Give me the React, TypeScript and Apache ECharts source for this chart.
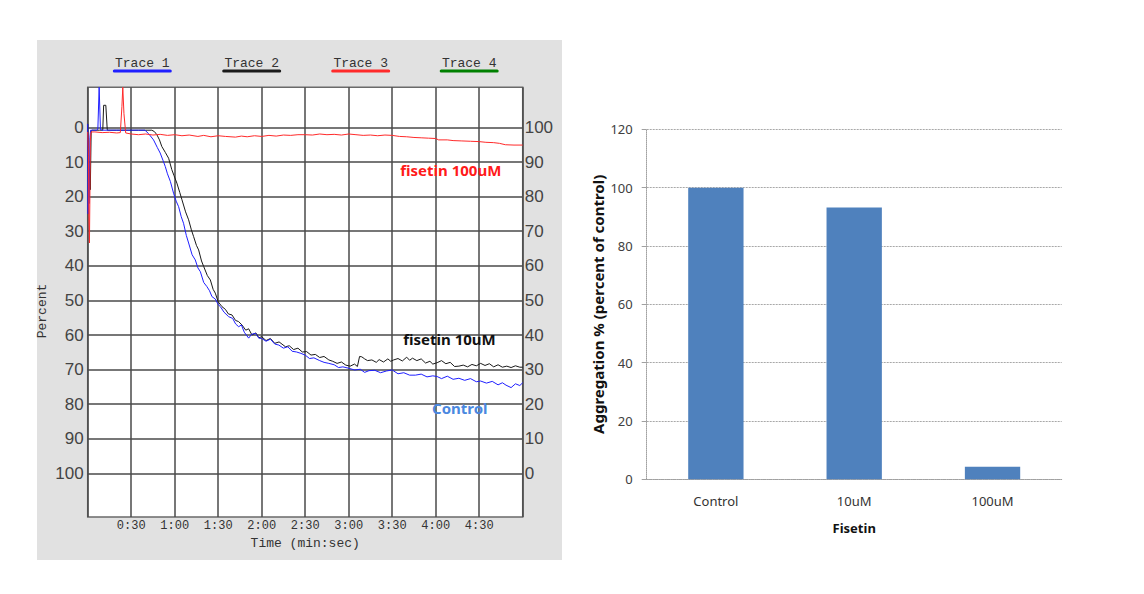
import React, { useEffect, useRef } from "react";
import * as echarts from "echarts";

// time (s), percent (0 at top, increasing downward)
const controlTrace: [number, number][] = [
  [0, -1], [0.3, 25], [0.6, 10], [1, 22], [1.5, 3], [2, 0.8], [4, 0.8], [6, 0.8], [7, 0.5], [7.9, -11.6], [8.8, 0.6],
  [10, 0.8], [15, 0.8], [20, 0.8], [25, 0.8], [30, 0.8], [35, 0.8], [39.5, 0.8], [42, 1.8], [45.4, 3.6], [48, 5.8],
  [50, 7.4], [52, 9.6], [53.5, 11.3], [55, 13.4], [57, 15.6], [59.2, 19], [61, 21.3], [62.7, 22.9], [64.5, 25.8],
  [66.1, 27.7], [68, 31.2], [69.6, 33.4], [72, 36.8], [74.2, 38.3], [76, 40.6], [77.7, 41.7], [80, 44.8], [82.2, 46],
  [84, 47.2], [85.7, 48.9], [88, 49.6], [90, 51.2], [91.5, 51.8], [94, 53.4], [97.2, 54.7], [100, 55.2], [102, 56.8],
  [104.1, 57.6], [106, 57.1], [108, 59.2], [111, 60.9], [113, 59.8], [115.7, 59.5], [118, 60.9], [120, 61], [123, 61.8],
  [126, 61.2], [129, 62.6], [131.8, 62.9], [135, 63.8], [138, 63.4], [141, 64.7], [144, 64.9], [147, 65.3], [150, 65.8],
  [153, 66.8], [156, 66.6], [160, 67.4], [163, 67.9], [166.3, 68.2], [170, 68.6], [173, 69.4], [176, 69.2], [180, 69.6],
  [184, 70.1], [188, 69.9], [191, 70.8], [194, 70.3], [198, 70.2], [202, 70.9], [206, 70.4], [210, 70.1], [214, 71.2],
  [218, 70.9], [222, 71.6], [226, 71.6], [230, 71.3], [234, 72.1], [238, 71.8], [241, 72], [244, 72.6], [248, 71.9],
  [252, 72.8], [256, 72.5], [260, 73.1], [264, 72.6], [268, 73.5], [271, 73.3], [275, 73.9], [279, 73.4], [283, 74.4],
  [286, 73.8], [288.5, 74.5], [292, 75.2], [295, 74.1], [298, 74.6], [300, 73.8],
];

const fisetin10Trace: [number, number][] = [
  [0, -1], [0.4, 8], [0.7, 20], [1.2, 12], [1.8, 18], [2.4, 1], [3, 0.8], [5, 0.8], [8, 0.8], [10.4, 0.8], [11, -6.4],
  [12.5, -6.4], [13.5, 0.8], [16, 0.8], [20, 0.8], [25, 0.8], [30, 0.8], [35, 0.8], [40, 0.8], [44.2, 0.8], [46, 1.2],
  [47.7, 2.1], [49.5, 3.6], [51.1, 5.5], [53.5, 7.2], [55.8, 8.9], [58, 12.2], [59.5, 13.9], [61.5, 16.1], [63.5, 18.8],
  [65, 20.9], [67.5, 24.4], [69.6, 26.7], [71.5, 29.6], [73, 31.5], [75, 34.1], [76.5, 35.4], [78.5, 38.6], [80, 40.2],
  [82.5, 42.8], [84.6, 44.1], [86.5, 46.8], [88, 47.9], [90, 50.4], [92.6, 51.8], [95, 52.6], [97, 53.9], [99.5, 54.2],
  [102, 55.8], [104, 56.1], [106.4, 57.1], [109, 58.6], [111, 58.2], [113.3, 60], [116, 59.4], [118, 60.8], [120, 60.5],
  [123, 61.6], [126, 61], [129, 62.4], [132, 62], [136.4, 63.4], [139, 63.1], [142, 64.2], [145, 63.8], [148, 64.9],
  [151, 64.8], [154, 65.8], [157, 65.6], [160, 66.5], [163, 66.2], [166.3, 67.2], [169, 67.6], [172, 68.2], [175, 67.8],
  [178, 68.7], [181, 69], [184, 68.4], [186, 69.1], [187.5, 66.2], [189, 66.3], [191, 66.9], [193, 67.4], [196, 67.2],
  [199, 67.9], [201, 67.1], [204, 67.8], [207, 66.9], [209, 67.6], [211, 67.2], [214, 66.8], [217, 67.5], [220, 66.4],
  [222, 67.3], [224, 66.7], [227, 67.4], [230, 66.9], [233, 68.1], [236, 67.6], [238, 68.4], [241, 68], [244, 67.4],
  [247, 68.3], [250, 67.9], [253, 69.1], [256, 69], [259, 68.7], [262, 69.2], [265, 68.5], [268, 68.9], [271, 68.2],
  [274, 68.8], [277, 68.3], [280, 69.2], [283, 68.6], [286, 69.3], [289, 69], [292, 69.4], [295, 68.9], [298, 69.3],
  [300, 69.3],
];

const fisetin100Trace: [number, number][] = [
  [0, 1.3], [0.5, 8], [0.8, 26], [1.2, 33.4], [1.5, 20], [1.8, 4], [2.3, 1.3], [5, 1.3], [10, 1.5], [15, 1.4], [20, 1.6],
  [22.5, 1.5], [23.6, -6], [24.2, -11.6], [25, -4], [26.2, 1.6], [30, 1.9], [35, 2.1], [40, 1.9], [45, 2.2], [50, 2.0],
  [55, 2.3], [60, 2.1], [65, 2.4], [70, 2.2], [76, 2.6], [80, 2.3], [85, 2.7], [90, 2.4], [95, 2.6], [101.9, 2.8],
  [106, 2.5], [110, 2.7], [115, 2.4], [120, 2.6], [125, 2.3], [130, 2.5], [135, 2.2], [140, 2.3], [145, 2.1], [150, 2.1],
  [155, 2.2], [160, 1.9], [165, 2.1], [170, 2.0], [175, 2.2], [180, 1.9], [185, 2.1], [190, 2.3], [195, 2.2], [200, 2.4],
  [205, 2.2], [210, 2.3], [215, 2.6], [220, 2.7], [225, 2.9], [230, 3.0], [235, 3.1], [240, 3.2], [242, 3.6], [248, 3.6],
  [252, 3.8], [258, 3.9], [264, 4.0], [270, 4.1], [274.6, 4.3], [280, 4.4], [284, 4.6], [288, 5], [294, 5.1], [300, 5.1],
];

const percentTicks = [0, 10, 20, 30, 40, 50, 60, 70, 80, 90, 100];
const traceNames = ["Trace 1", "Trace 2", "Trace 3", "Trace 4"];
const traceColors = ["#1f1fff", "#1a1a1a", "#ff2a2a", "#008000"];
const annotationTexts = ["fisetin 100uM", "fisetin 10uM", "Control"];

const barCategories = ["Control", "10uM", "100uM"];
const barValues = [100, 93.2, 4.3];

const MONO = "'Liberation Mono', 'DejaVu Sans Mono', monospace";
const SANS = "'Noto Sans', 'Liberation Sans', sans-serif";

function fmtTime(v: number) {
  const m = Math.floor(v / 60);
  const s = Math.round(v % 60);
  return m + ":" + (s < 10 ? "0" + s : "" + s);
}

export default function App() {
  const ref = useRef<HTMLDivElement>(null);
  useEffect(() => {
    const chart = echarts.init(ref.current!, null, { renderer: "svg" });
    const legendX = [142.3, 251.7, 360.7, 469.2];
    const graphic: any[] = [
      { type: "rect", z: -10, silent: true, shape: { x: 37, y: 40, width: 525, height: 520 }, style: { fill: "#e1e1e1" } },
      {
        type: "text", x: 42.5, y: 311, rotation: Math.PI / 2,
        style: { text: "Percent", font: "13px " + MONO, fill: "#333", align: "center", verticalAlign: "middle" },
      },
    ];
    traceNames.forEach((n, i) => {
      graphic.push({
        type: "text", x: legendX[i], y: 63,
        style: { text: n, font: "13px " + MONO, fill: "#333", align: "center", verticalAlign: "middle" },
      });
      graphic.push({
        type: "rect", shape: { x: legendX[i] - 29.5, y: 69.5, width: 59, height: 3, r: 1.5 },
        style: { fill: traceColors[i] },
      });
    });
    const annPos = [
      [450.8, 170, "#ff1a1a"],
      [449.5, 338.5, "#111111"],
      [459.8, 407.5, "#4a88e0"],
    ];
    annotationTexts.forEach((t, i) => {
      graphic.push({
        type: "text", x: annPos[i][0], y: annPos[i][1], z: 50,
        style: { text: t, font: "bold 15px " + SANS, fill: annPos[i][2], align: "center", verticalAlign: "middle" },
      });
    });

    chart.setOption({
      animation: false,
      backgroundColor: "#ffffff",
      graphic,
      grid: [
        { left: 87.7, top: 87.3, width: 435, height: 429.7, show: true, backgroundColor: "#ffffff", borderColor: "#6a6a6a", borderWidth: 1.5 },
        { left: 646.7, top: 129.3, width: 415, height: 350 },
      ],
      xAxis: [
        {
          gridIndex: 0, type: "value", min: 0, max: 300, interval: 30,
          axisLine: { show: false }, axisTick: { show: false },
          axisLabel: {
            formatter: (v: number) => (v === 0 || v === 300 ? "" : fmtTime(v)),
            fontFamily: MONO, fontSize: 12, color: "#333", margin: 3,
          },
          splitLine: { show: true, lineStyle: { color: "#4a4a4a", width: 1.5 } },
          name: "Time (min:sec)", nameLocation: "middle", nameGap: 17,
          nameTextStyle: { fontFamily: MONO, fontSize: 13, color: "#333" },
        },
        {
          gridIndex: 1, type: "category", data: barCategories,
          axisLine: { show: true, lineStyle: { color: "#a0a0a0", type: "dotted" } },
          axisTick: { show: false },
          axisLabel: { fontFamily: SANS, fontSize: 13, color: "#333", margin: 15 },
          name: "Fisetin", nameLocation: "middle", nameGap: 42,
          nameTextStyle: { fontFamily: SANS, fontSize: 13, fontWeight: "bold", color: "#111" },
        },
      ],
      yAxis: [
        {
          gridIndex: 0, type: "value", inverse: true, min: -11.6, max: 112.6,
          axisLine: { show: false }, axisTick: { show: false, customValues: percentTicks },
          axisLabel: {
            customValues: percentTicks, fontFamily: "'Liberation Sans', sans-serif", fontSize: 17,
            color: "#444", margin: 4,
          },
          splitLine: { show: true, lineStyle: { color: "#4a4a4a", width: 1.5 } },
        },
        {
          gridIndex: 0, type: "value", position: "right", min: -12.6, max: 111.6,
          axisLine: { show: false }, axisTick: { show: false, customValues: percentTicks },
          axisLabel: {
            customValues: percentTicks, fontFamily: "'Liberation Sans', sans-serif", fontSize: 17,
            color: "#444", margin: 2,
          },
          splitLine: { show: false },
        },
        {
          gridIndex: 1, type: "value", min: 0, max: 120, interval: 20,
          axisLine: { show: true, lineStyle: { color: "#a0a0a0", type: "dotted" } },
          axisTick: { show: true, length: 5, lineStyle: { color: "#a0a0a0" } },
          axisLabel: { fontFamily: SANS, fontSize: 13, color: "#404040", margin: 14 },
          splitLine: { show: true, lineStyle: { color: "#a8a8a8", type: [2, 1] } },
          name: "Aggregation % (percent of control)", nameLocation: "middle", nameGap: 41,
          nameTextStyle: { fontFamily: SANS, fontSize: 15, fontWeight: "bold", color: "#111" },
        },
      ],
      series: [
        {
          name: traceNames[0], type: "line", xAxisIndex: 0, yAxisIndex: 0, data: controlTrace,
          showSymbol: false, symbol: "none", lineStyle: { color: traceColors[0], width: 1 }, z: 5,
        },
        {
          name: traceNames[1], type: "line", xAxisIndex: 0, yAxisIndex: 0, data: fisetin10Trace,
          showSymbol: false, symbol: "none", lineStyle: { color: traceColors[1], width: 1 }, z: 4,
        },
        {
          name: traceNames[2], type: "line", xAxisIndex: 0, yAxisIndex: 0, data: fisetin100Trace,
          showSymbol: false, symbol: "none", lineStyle: { color: traceColors[2], width: 1 }, z: 6,
        },
        {
          name: "Aggregation", type: "bar", xAxisIndex: 1, yAxisIndex: 2, data: barValues,
          barWidth: "40%", itemStyle: { color: "#4f81bd" },
        },
      ],
    });
    return () => chart.dispose();
  }, []);
  return (
    <div
      ref={ref}
      style={{ position: "fixed", left: 0, top: 0, width: 1144, height: 594, background: "#fff" }}
    />
  );
}
